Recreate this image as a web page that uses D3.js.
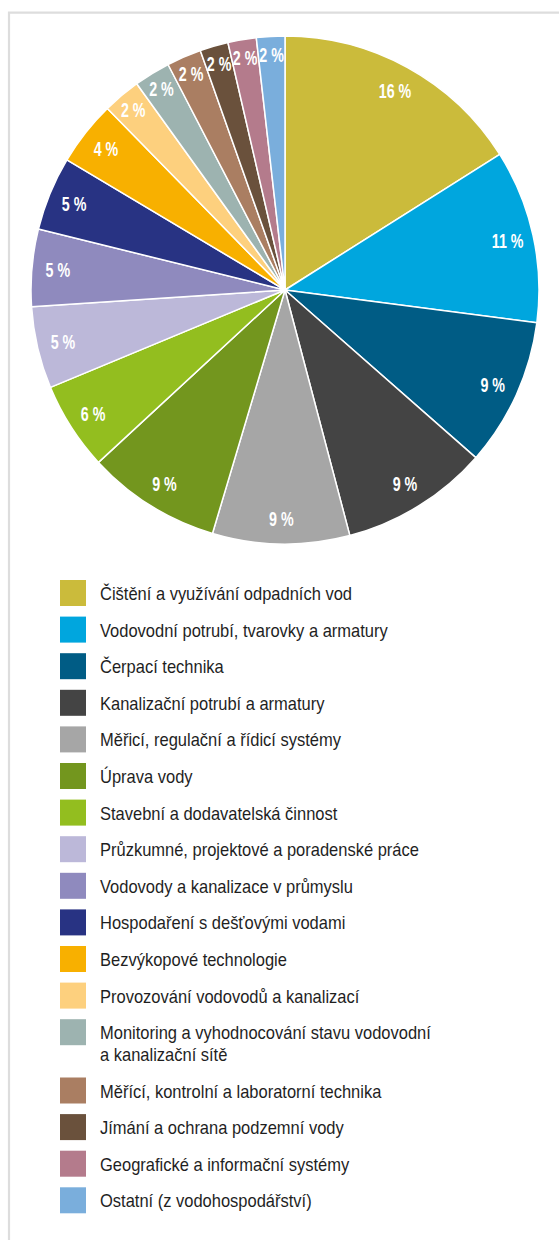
<!DOCTYPE html>
<html>
<head>
<meta charset="utf-8">
<script src="https://cdn.jsdelivr.net/npm/d3@7"></script>
<style>
  html, body { margin: 0; padding: 0; background: #fff; }
  svg { display: block; }
</style>
</head>
<body>
<svg id="chart" width="559" height="1240"></svg>
<script>
const categories = [
  "Čištění a využívání odpadních vod",
  "Vodovodní potrubí, tvarovky a armatury",
  "Čerpací technika",
  "Kanalizační potrubí a armatury",
  "Měřicí, regulační a řídicí systémy",
  "Úprava vody",
  "Stavební a dodavatelská činnost",
  "Průzkumné, projektové a poradenské práce",
  "Vodovody a kanalizace v průmyslu",
  "Hospodaření s dešťovými vodami",
  "Bezvýkopové technologie",
  "Provozování vodovodů a kanalizací",
  "Monitoring a vyhodnocování stavu vodovodní\na kanalizační sítě",
  "Měřící, kontrolní a laboratorní technika",
  "Jímání a ochrana podzemní vody",
  "Geografické a informační systémy",
  "Ostatní (z vodohospodářství)"
];
const values = [16, 11, 9.4, 9.4, 8.7, 8.5, 5.6, 5.2, 4.9, 4.7, 4.1, 2.4, 2.3, 2.2, 1.8, 1.8, 1.8];
const labels = ["16 %", "11 %", "9 %", "9 %", "9 %", "9 %", "6 %", "5 %", "5 %", "5 %", "4 %", "2 %", "2 %", "2 %", "2 %", "2 %", "2 %"];
const colors = ["#CBBB3B", "#00A6DE", "#005C85", "#444444", "#A6A6A6", "#73961E", "#93BE1F",
  "#BCB8D9", "#8F8ABE", "#283383", "#F8B000", "#FDD07E", "#9DB3B0", "#AA7E62", "#6A513C",
  "#B47B8C", "#7AAEDC"];

const svg = d3.select("#chart");

// frame
svg.append("path")
  .attr("d", "M9,1240 L9,12.7 L559,12.7")
  .attr("fill", "none")
  .attr("stroke", "#dddddd")
  .attr("stroke-width", 2.2);

const cx = 285, cy = 290, R = 254;
const data = categories.map((c, i) => ({ name: c, value: values[i], label: labels[i], color: colors[i] }));

const pie = d3.pie().value(d => d.value).sort(null);
const arcs = pie(data);
const arc = d3.arc().innerRadius(0).outerRadius(R);

const g = svg.append("g").attr("transform", `translate(${cx},${cy})`);
g.selectAll("path.slice").data(arcs).join("path")
  .attr("class", "slice")
  .attr("d", arc)
  .attr("fill", d => d.data.color)
  .attr("stroke", "#fff")
  .attr("stroke-width", 1.5)
  .attr("stroke-linejoin", "round");

g.selectAll("text.lbl").data(arcs).join("text")
  .attr("class", "lbl")
  .attr("transform", d => {
    const r = d.data.value < 3 ? 236 : 228;
    const a = (d.startAngle + d.endAngle) / 2;
    const x = Math.sin(a) * r, y = -Math.cos(a) * r;
    return `translate(${x},${y}) scale(0.68,1)`;
  })
  .attr("text-anchor", "middle")
  .attr("dy", "0.36em")
  .attr("fill", "#fff")
  .style("font-family", "'Liberation Sans', Arial, sans-serif")
  .style("font-weight", "bold")
  .style("font-size", "21px")
  .text(d => d.data.label);

// legend
const legTop = 580, step = 36.6, lineH = 21.7;
const legFont = "'Liberation Sans', Arial, sans-serif";
// horizontal condensing to imitate a narrow face
const probe = svg.append("text").style("font-family", legFont).style("font-size", "18px").text(categories[1]);
const sx = 288 / probe.node().getComputedTextLength();
probe.remove();

let y = legTop;
const leg = svg.append("g");
data.forEach((d, i) => {
  const lines = d.name.split("\n");
  leg.append("rect")
    .attr("x", 60).attr("y", y).attr("width", 26).attr("height", 26)
    .attr("fill", d.color);
  const t = leg.append("text")
    .attr("transform", `translate(100,${y + 20}) scale(${sx},1)`)
    .attr("fill", "#1f1f1f")
    .style("font-family", legFont)
    .style("font-size", "18px");
  lines.forEach((ln, j) => {
    t.append("tspan").attr("x", 0).attr("y", j * lineH).text(ln);
  });
  y += step + (lines.length - 1) * lineH;
});
</script>
</body>
</html>
